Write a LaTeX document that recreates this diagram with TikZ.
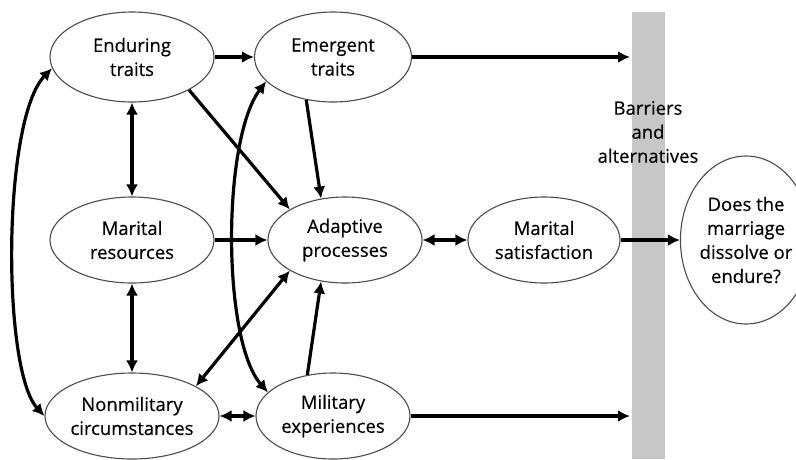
\documentclass[tikz,border=0pt]{standalone}
\usepackage{fontspec}
\setmainfont{Open Sans}[UprightFeatures={FakeBold=0.35}]
\usetikzlibrary{arrows.meta,shapes.geometric}
\begin{document}
\begin{tikzpicture}[x=1pt,y=-1pt,
  txt/.style={font=\fontsize{18.5}{24}\selectfont},
  el/.style={ellipse,draw=black!70,line width=1.1pt,fill=white,inner sep=0pt,align=center,txt},
  arr/.style={line width=3.2pt,-{Latex[length=12pt,width=12pt]}},
  darr/.style={line width=3.2pt,{Latex[length=12pt,width=12pt]}-{Latex[length=12pt,width=12pt]}}]
\useasboundingbox (0,0) rectangle (796,459);
\fill[black!22] (632,12) rectangle (665,459);
\node[txt,align=center] (ba) at (648,132) {Barriers\\and\\alternatives};

\node[el,minimum width=164pt,minimum height=90pt] (et) at (132,57) {Enduring\\traits};
\node[el,minimum width=157pt,minimum height=90pt] (em) at (333,57) {Emergent\\traits};
\node[el,minimum width=164pt,minimum height=86pt] (mr) at (132,240) {Marital\\resources};
\node[el,minimum width=154pt,minimum height=86pt] (ap) at (345,240) {Adaptive\\processes};
\node[el,minimum width=152pt,minimum height=86pt] (ms) at (544,240) {Marital\\satisfaction};
\node[el,minimum width=168pt,minimum height=86pt] (nm) at (132,416) {Nonmilitary\\circumstances};
\node[el,minimum width=154pt,minimum height=86pt] (mx) at (333,416) {Military\\experiences};
\node[el,minimum width=120pt,minimum height=168pt] (dm) at (746,240) {Does the\\marriage\\dissolve or\\endure?};

\coordinate (b1) at (630,57);
\coordinate (b2) at (630,416);

\draw[arr] (et.east) -- (em.west);
\draw[arr] (em.east) -- (b1);
\draw[darr] (et.south) -- (mr.north);
\draw[arr] (et.-30) -- (ap.151);
\draw[arr] (em.-122) -- (ap.120);
\draw[arr] (mr.east) -- (ap.west);
\draw[darr] (mr.south) -- (nm.north);
\draw[darr] (nm.25) -- (ap.-151);
\draw[arr] (mx.122) -- (ap.-120);
\draw[darr] (nm.east) -- (mx.west);
\draw[arr] (mx.east) -- (b2);
\draw[darr] (ap.east) -- (ms.west);
\draw[arr] (ms.east) -- (dm.west);
\draw[darr] (et.-172) .. controls (2,120) and (2,370) .. (nm.west);
\draw[darr] (em.-160) .. controls (222,140) and (222,340) .. (mx.160);
\end{tikzpicture}
\end{document}
